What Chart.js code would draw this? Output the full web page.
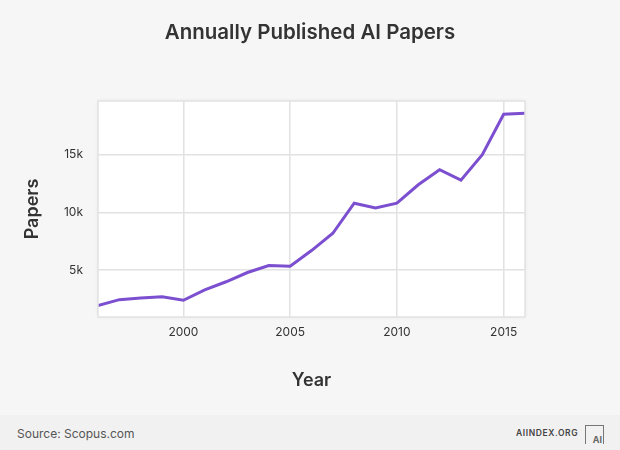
<!DOCTYPE html>
<html>
<head>
<meta charset="utf-8">
<script src="https://cdn.jsdelivr.net/npm/chart.js@4"></script>
<style>
  body { margin: 0; background: #f6f6f6; font-family: Inter, sans-serif; }
  #wrap { position: relative; width: 620px; height: 450px; }
  #titulo { position: absolute; left: 0; top: 19px; width: 620px; text-align: center; font-size: 20.5px; font-weight: 600; color: #333; line-height: 26px; }
  #footer { position: absolute; left: 0; top: 415px; width: 620px; height: 35px; background: #f1f1f1; }
  #src { position: absolute; left: 17px; top: 11px; font-size: 12px; color: #555; }
  #site { position: absolute; left: 516px; top: 13px; font-size: 8.5px; letter-spacing: 0.6px; color: #444; font-weight: 600; }
  #logo { position: absolute; left: 585px; top: 10px; width: 19px; height: 19px; border: 1.5px solid #777; border-bottom: none; font-size: 9px; color: #666; font-weight: 700; text-align: right; line-height: 28px; padding-right: 1px; box-sizing: border-box; }
</style>
</head>
<body>
<div id="wrap">
  <canvas id="grafico-linha" width="620" height="450"></canvas>
  <div id="titulo">Annually Published AI Papers</div>
  <div id="footer">
    <span id="src">Source: Scopus.com</span>
    <span id="site">AIINDEX.ORG</span>
    <div id="logo">AI</div>
  </div>
</div>
<script>
const anos = [1996, 1997, 1998, 1999, 2000, 2001, 2002, 2003, 2004, 2005, 2006, 2007, 2008, 2009, 2010, 2011, 2012, 2013, 2014, 2015, 2016];
const artigos = [1950, 2450, 2600, 2700, 2400, 3300, 4000, 4800, 5400, 5350, 6700, 8200, 10800, 10400, 10800, 12400, 13700, 12800, 15000, 18500, 18600];
const ticksX = [2000, 2005, 2010, 2015];
const ticksY = [5000, 10000, 15000];

const graficoLinha = document.getElementById("grafico-linha");

// fundo branco + borda da area do grafico
const fundoArea = {
  id: "fundoArea",
  beforeDraw(chart) {
    const { ctx, chartArea: a } = chart;
    ctx.save();
    ctx.shadowColor = "rgba(0,0,0,0.08)";
    ctx.shadowBlur = 4;
    ctx.fillStyle = "#ffffff";
    ctx.fillRect(a.left, a.top, a.right - a.left, a.bottom - a.top);
    ctx.restore();
  },
  afterDatasetsDraw(chart) {
    const { ctx, chartArea: a } = chart;
    ctx.save();
    ctx.strokeStyle = "#e2e2e2";
    ctx.lineWidth = 1.5;
    ctx.strokeRect(a.left, a.top, a.right - a.left, a.bottom - a.top);
    ctx.restore();
  }
};

new Chart(graficoLinha, {
  type: "line",
  data: {
    datasets: [
      {
        label: "Papers",
        data: anos.map((a, i) => ({ x: a, y: artigos[i] })),
        borderColor: "#7b4fcf",
        borderWidth: 3,
        pointRadius: 0,
        tension: 0,
      },
    ],
  },
  options: {
    responsive: false,
    animation: false,
    layout: { padding: { left: 0, right: 95, top: 101, bottom: 53 } },
    plugins: {
      legend: { display: false },
      tooltip: { enabled: false },
      title: { display: false },
    },
    scales: {
      x: {
        type: "linear",
        min: 1996,
        max: 2016,
        afterBuildTicks: (s) => { s.ticks = ticksX.map((v) => ({ value: v })); },
        afterFit: (s) => { s.height = 80; },
        grid: { color: "#e2e2e2", lineWidth: 1.5, drawTicks: false },
        border: { display: false },
        ticks: {
          color: "#333",
          font: { family: "Inter", size: 12 },
          padding: 8,
          maxRotation: 0,
          callback: (v) => String(v),
        },
        title: {
          display: true,
          text: "Year",
          color: "#333",
          font: { family: "Inter", size: 18, weight: "600" },
          padding: { top: 6, bottom: 6 },
        },
      },
      y: {
        min: 950,
        max: 19650,
        afterBuildTicks: (s) => { s.ticks = ticksY.map((v) => ({ value: v })); },
        afterFit: (s) => { s.width = 98; },
        grid: { color: "#e2e2e2", lineWidth: 1.5, drawTicks: false },
        border: { display: false },
        ticks: {
          color: "#333",
          font: { family: "Inter", size: 12 },
          padding: 15,
          callback: (v) => v / 1000 + "k",
        },
        title: {
          display: true,
          text: "Papers",
          color: "#333",
          font: { family: "Inter", size: 18, weight: "600" },
          padding: { top: 22, bottom: 22 },
        },
      },
    },
  },
  plugins: [fundoArea],
});
</script>
</body>
</html>
